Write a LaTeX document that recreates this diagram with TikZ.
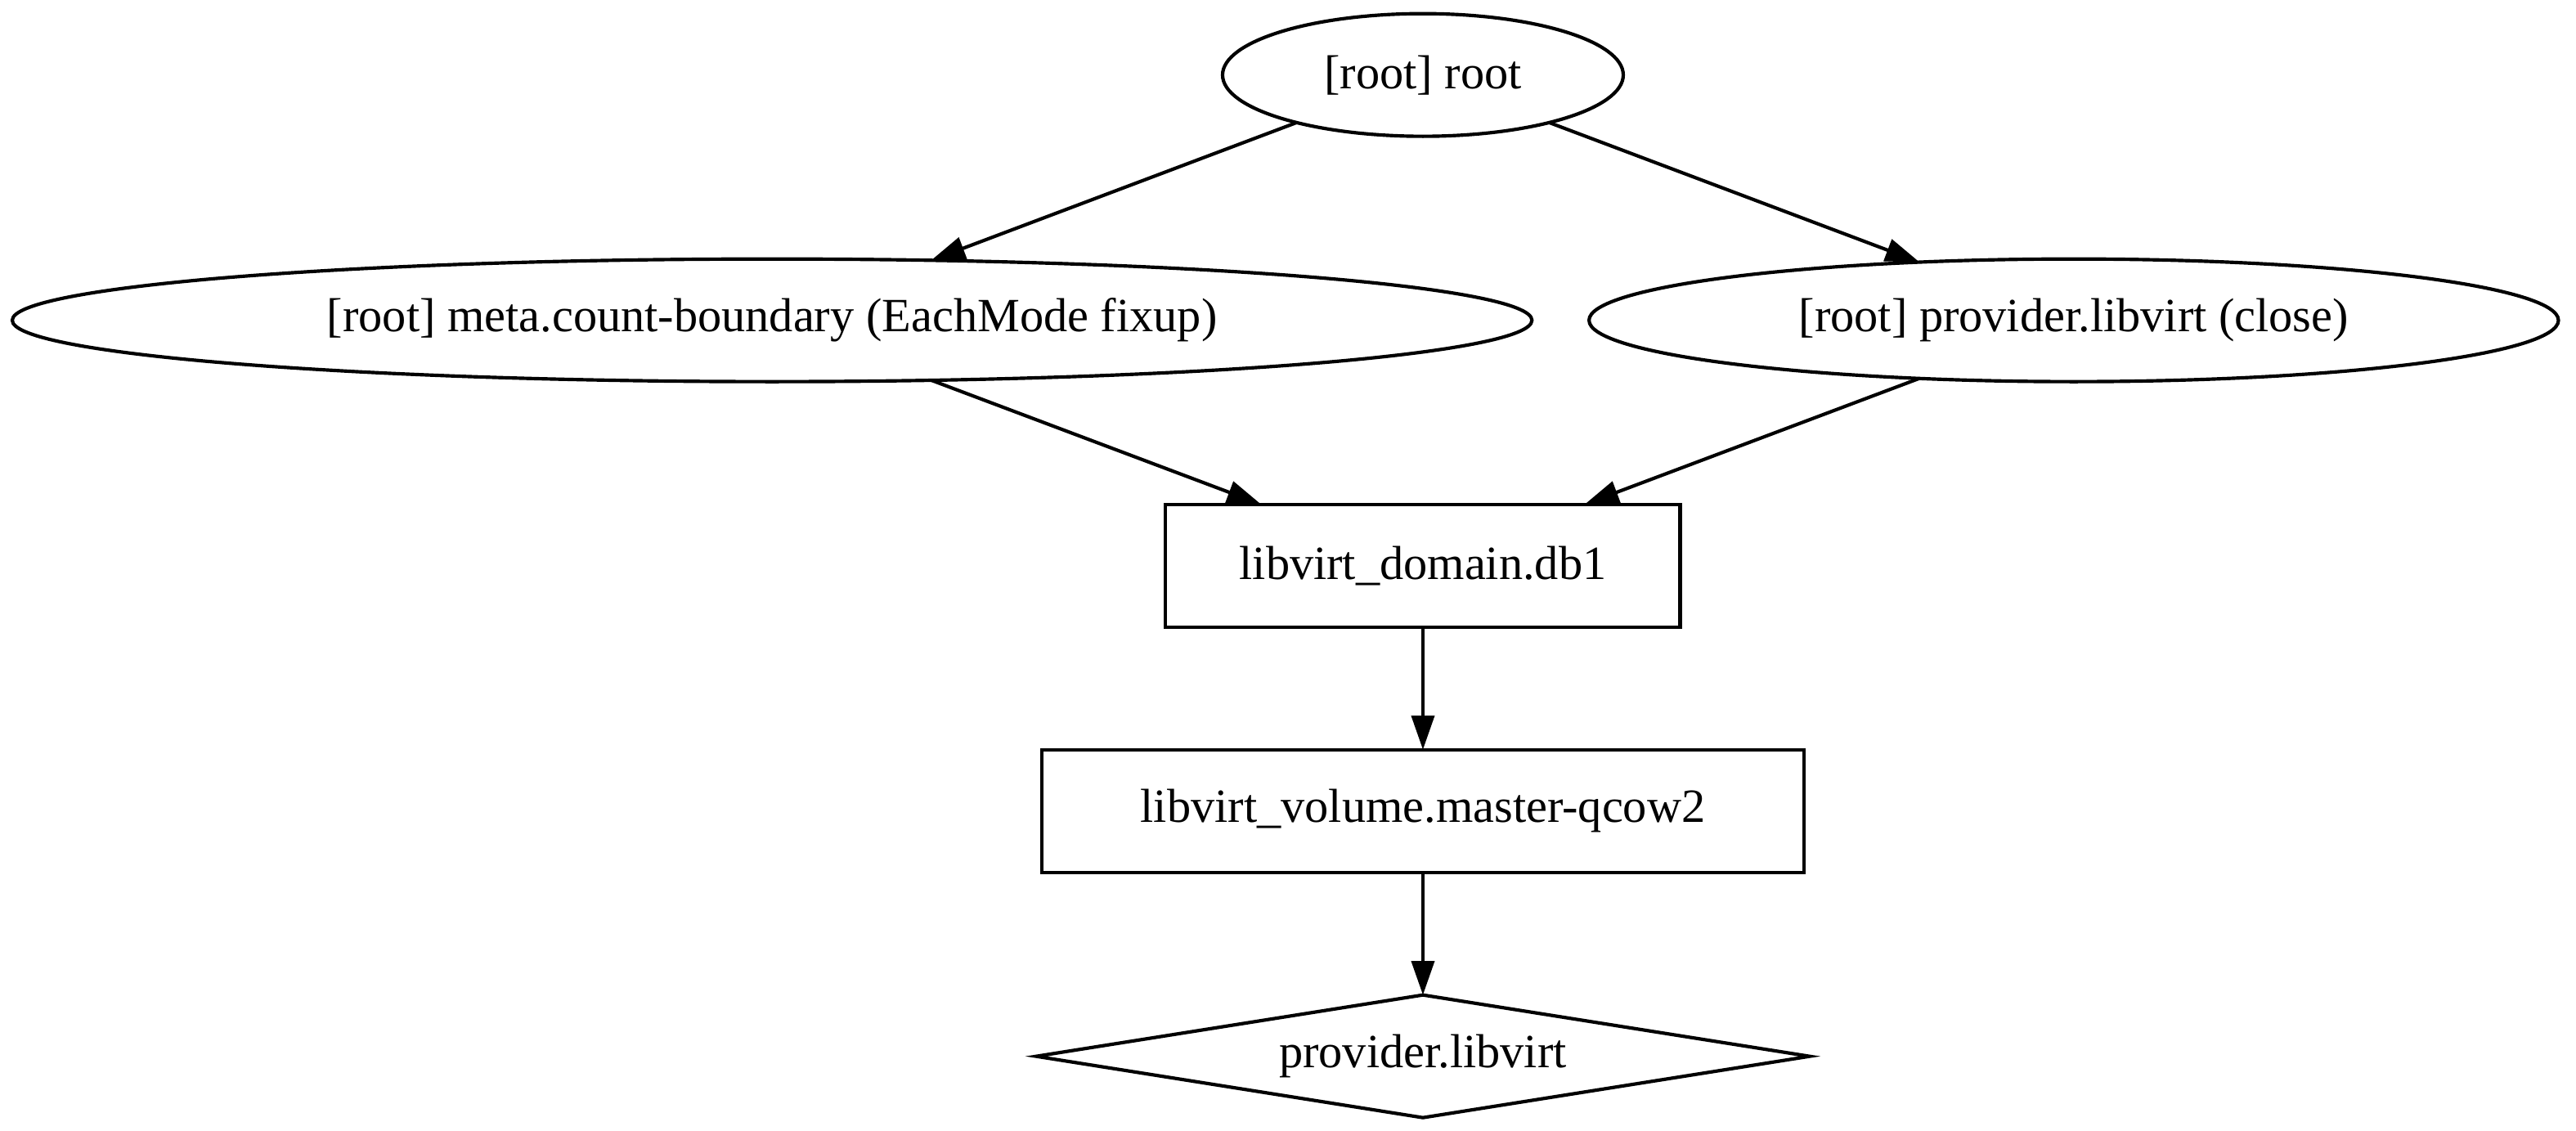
\documentclass[tikz,border=0pt]{standalone}
\usepackage{fontspec}
\setmainfont{Liberation Serif}
\usepackage{tikz}
\usetikzlibrary{shapes.geometric,positioning,arrows.meta}

\begin{document}
\begin{tikzpicture}[node distance=72pt and 191pt,on grid,->,>={Triangle[length=10pt,width=6.7pt]},line width=1pt,
	every node/.style={font=\fontsize{14pt}{16pt}\selectfont,inner sep=0pt,outer sep=0pt},
	res/.style={draw,ellipse,minimum height=36pt},
	resbox/.style={draw,rectangle,minimum height=36pt},
	prov/.style={draw,diamond,shape aspect=6.3,minimum height=36pt}]
	\useasboundingbox (-417.6pt,22pt) rectangle (338.4pt,-309.9pt);
	\node[res,minimum width=117.6pt](root){[root] root};
	\node[res,minimum width=446pt](meta)[below left=of root]{[root] meta.count-boundary (EachMode fixup)};
	\node[res,minimum width=284.5pt](close)[below right=of root]{[root] provider.libvirt (close)};
	\node[resbox,minimum width=151pt](db1)[below=144pt of root]{libvirt\_domain.db1};
	\node[resbox,minimum width=223.7pt](qcow2)[below=of db1]{libvirt\_volume.master-qcow2};
	\node[prov,minimum width=227pt](provider)[below=of qcow2]{provider.libvirt};

	\path
	(root) edge (meta)
	edge (close)
	(meta) edge ([xshift=-47.5pt]db1.north)
	(close) edge ([xshift=47.5pt]db1.north)
	(db1) edge (qcow2)
	(qcow2) edge (provider);
\end{tikzpicture}
\end{document}
